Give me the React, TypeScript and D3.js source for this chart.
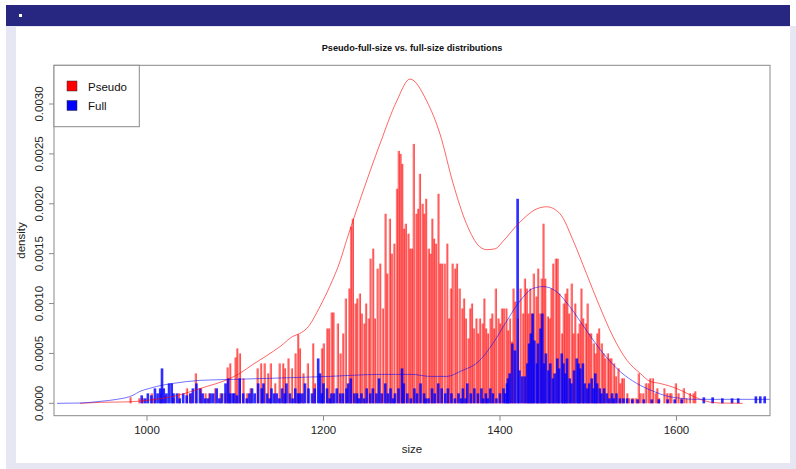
import React from "react";
import * as d3 from "d3";

// ---- data (density values in units of 1e-5) ----
const pseudoHist: [number, number][] = [
  [981,6],[991,5],[995,5],[1005,10],[1008,5],[1015,10],[1020,8],[1030,5],[1036,10],[1045,15],[1050,10],[1055,30],[1061,15],[1066,10],[1070,10],[1077,15],[1083,10],[1088,10],[1091,36],[1094,40],[1100,46],[1102,55],[1105,50],[1109,25],[1113,10],[1117,15],[1125,35],[1129,40],[1133,40],[1137,30],[1140,40],[1145,20],[1150,40],[1154,40],[1156,35],[1160,45],[1164,35],[1168,50],[1171,69],[1173,55],[1177,30],[1182,40],[1188,60],[1190,20],[1198,55],[1200,60],[1204,75],[1206,75],[1209,91],[1211,91],[1216,80],[1219,50],[1222,70],[1225,105],[1229,115],[1231,177],[1233,185],[1236,100],[1238,105],[1241,110],[1243,90],[1246,80],[1248,100],[1251,85],[1253,145],[1256,155],[1258,85],[1261,135],[1264,140],[1267,95],[1270,190],[1272,130],[1275,185],[1277,150],[1280,160],[1283,215],[1285,253],[1287,250],[1289,240],[1291,175],[1293,180],[1296,170],[1298,155],[1300,155],[1302,260],[1305,190],[1307,195],[1309,230],[1312,200],[1314,190],[1316,205],[1319,155],[1321,150],[1323,185],[1325,165],[1327,160],[1330,210],[1332,140],[1334,140],[1337,140],[1340,160],[1342,85],[1344,115],[1346,140],[1349,135],[1351,140],[1354,115],[1357,95],[1359,105],[1361,85],[1364,65],[1366,95],[1368,100],[1370,75],[1373,85],[1375,70],[1377,85],[1380,80],[1382,105],[1384,75],[1386,70],[1389,85],[1391,90],[1393,75],[1395,115],[1398,85],[1400,80],[1402,95],[1404,95],[1407,95],[1409,73],[1411,85],[1413,62],[1415,115],[1417,102],[1420,85],[1423,115],[1426,90],[1428,125],[1430,115],[1432,90],[1434,115],[1436,90],[1438,130],[1441,107],[1443,135],[1445,90],[1447,125],[1449,180],[1451,125],[1454,87],[1456,85],[1458,115],[1460,140],[1463,145],[1465,145],[1467,110],[1470,70],[1472,100],[1474,110],[1476,115],[1478,90],[1481,120],[1483,70],[1485,100],[1488,70],[1490,80],[1492,115],[1494,85],[1497,80],[1499,100],[1501,70],[1503,70],[1506,60],[1508,50],[1510,70],[1512,75],[1515,60],[1517,50],[1519,45],[1522,50],[1524,45],[1526,45],[1529,40],[1531,27],[1534,35],[1536,20],[1538,25],[1540,25],[1544,10],[1546,5],[1549,5],[1551,5],[1554,5],[1557,30],[1559,10],[1562,10],[1565,20],[1568,20],[1570,25],[1573,25],[1576,10],[1578,15],[1580,5],[1586,15],[1589,10],[1592,10],[1594,10],[1599,20],[1602,10],[1605,5],[1608,15],[1611,5],[1615,10],[1619,10],[1621,12]
];

const fullHist: [number, number][] = [
  [994,8],[998,5],[1001,10],[1005,8],[1009,15],[1012,10],[1015,15],[1017,35],[1019,15],[1022,10],[1025,20],[1028,20],[1030,10],[1034,10],[1037,5],[1041,10],[1045,8],[1049,10],[1052,15],[1056,20],[1060,15],[1063,10],[1066,5],[1069,5],[1072,10],[1075,10],[1079,15],[1082,5],[1085,10],[1089,20],[1092,25],[1094,10],[1097,10],[1099,10],[1102,8],[1105,25],[1109,10],[1113,5],[1116,10],[1119,15],[1122,10],[1126,20],[1130,15],[1132,20],[1136,10],[1139,5],[1141,15],[1144,10],[1147,10],[1150,5],[1153,15],[1156,10],[1158,20],[1162,10],[1165,5],[1168,15],[1171,10],[1173,10],[1176,10],[1179,20],[1183,15],[1187,10],[1190,15],[1194,45],[1196,30],[1198,10],[1200,20],[1204,15],[1207,5],[1209,10],[1212,10],[1215,15],[1219,10],[1222,10],[1226,15],[1228,20],[1231,25],[1235,10],[1238,10],[1240,5],[1243,10],[1246,5],[1249,15],[1253,10],[1256,15],[1260,10],[1263,25],[1266,10],[1270,20],[1273,10],[1276,15],[1279,5],[1281,10],[1285,15],[1289,35],[1291,20],[1295,10],[1299,5],[1303,15],[1306,10],[1310,20],[1314,10],[1316,5],[1319,5],[1323,15],[1326,10],[1330,20],[1334,15],[1338,10],[1341,15],[1345,10],[1349,5],[1353,10],[1356,5],[1358,15],[1361,5],[1363,20],[1367,10],[1371,15],[1375,10],[1379,15],[1381,5],[1384,10],[1386,5],[1389,15],[1392,10],[1396,5],[1400,10],[1404,15],[1406,10],[1408,20],[1409,25],[1411,30],[1414,60],[1417,53],[1420,205],[1422,33],[1425,27],[1428,27],[1431,40],[1433,60],[1435,70],[1437,90],[1439,63],[1442,40],[1443,60],[1446,75],[1448,90],[1450,40],[1452,50],[1455,33],[1457,40],[1460,25],[1462,30],[1465,45],[1467,35],[1470,50],[1472,40],[1474,30],[1476,45],[1479,25],[1481,20],[1484,33],[1487,45],[1489,40],[1491,35],[1494,40],[1496,20],[1499,15],[1501,20],[1504,25],[1506,15],[1508,30],[1510,20],[1513,15],[1515,10],[1518,15],[1521,10],[1524,5],[1527,10],[1529,5],[1532,10],[1536,5],[1540,5],[1544,5],[1550,4],[1556,4],[1563,4],[1572,4],[1580,4],[1590,4],[1598,4],[1606,4],[1631,6],[1641,6],[1652,5],[1663,5],[1670,5],[1690,7],[1695,7],[1700,7]
];

const pseudoCurve: [number, number][] = [
  [924,0],[947,1],[980,1.5],[1000,3],[1030,7],[1068,17],[1086,22],[1105,30],[1120,39],[1136,48],[1151,57],[1165,67],[1173,70],[1181,75],[1196,97],[1207,117],[1219,143],[1226,163],[1245,213],[1264,260],[1283,303],[1298,325],[1317,303],[1332,270],[1347,220],[1362,180],[1377,157],[1385,154],[1395,155],[1403,162],[1423,182],[1442,195],[1453,197],[1468,190],[1483,163],[1498,130],[1513,97],[1528,67],[1544,43],[1559,30],[1570,22],[1581,20],[1600,15],[1619,7],[1634,2],[1650,0.3],[1675,0]
];

const fullCurve: [number, number][] = [
  [898,0],[924,0.3],[947,2],[966,4],[984,8],[992,12],[1003,15],[1011,17],[1030,20],[1060,23],[1098,24],[1136,25],[1173,26],[1207,27],[1230,28],[1264,29],[1300,29],[1321,27],[1340,27],[1355,32],[1377,43],[1392,60],[1408,83],[1423,103],[1437,115],[1449,117],[1464,112],[1479,97],[1498,73],[1517,50],[1536,32],[1555,20],[1574,12],[1590,7],[1605,5],[1620,4],[1650,4],[1680,4],[1706,4]
];

const yTicks = [0, 0.0005, 0.001, 0.0015, 0.002, 0.0025, 0.003];
const xTicks = [1000, 1200, 1400, 1600];
const legendLabels = ["Pseudo", "Full"];
const legendColors = ["#ff0000", "#0000ff"];

const UNIT = 1e-5;
const FONT = "'Liberation Sans', Arial, Helvetica, sans-serif";

export default function App() {
  const left = 54, right = 770, top = 65.3, bottom = 415.7;
  const x = d3.scaleLinear().domain([894.6, 1706]).range([left, right]);
  const y = d3.scaleLinear().domain([-0.000124, 0.003388]).range([bottom, top]);
  const y0 = y(0);

  const line = d3
    .line<[number, number]>()
    .x((d) => x(d[0]))
    .y((d) => y(d[1] * UNIT))
    .curve(d3.curveMonotoneX);

  const redW = x(2) - x(0);
  const blueW = x(3) - x(0);

  return (
    <svg
      width={796}
      height={469}
      style={{ position: "absolute", left: 0, top: 0, display: "block" }}
      fontFamily={FONT}
    >
      <rect x={0} y={0} width={796} height={469} fill="#ffffff" />
      <rect x={6} y={26} width={790} height={443} fill="#e7e7f3" />
      <rect x={16} y={27} width={774} height={436} fill="#ffffff" />
      <rect x={6} y={5} width={784} height={21} fill="#272781" />
      <rect x={19} y={14} width={3} height={3} fill="#ffffff" />

      <defs>
        <clipPath id="plotclip">
          <rect x={left} y={top} width={right - left} height={bottom - top} />
        </clipPath>
      </defs>

      <g clipPath="url(#plotclip)">
        {pseudoHist.map(([s, d], i) => {
          const x0 = x(s) - redW / 2;
          const yt = y(d * UNIT);
          return (
            <g key={"r" + i}>
              <rect x={x0} y={yt} width={redW} height={y0 - yt} fill="rgba(255,0,0,0.5)" />
              <line x1={x0 + redW} x2={x0 + redW} y1={yt} y2={y0} stroke="rgba(255,0,0,0.75)" strokeWidth={0.8} />
            </g>
          );
        })}
        {fullHist.map(([s, d], i) => {
          const x0 = x(s) - blueW / 2;
          const yt = y(d * UNIT);
          return (
            <rect key={"b" + i} x={x0} y={yt} width={blueW} height={y0 - yt} fill="rgba(0,0,255,0.82)" />
          );
        })}
        <path d={line(pseudoCurve) || ""} fill="none" stroke="#ff0000" strokeOpacity={0.6} strokeWidth={1} />
        <path d={line(fullCurve) || ""} fill="none" stroke="#0000ff" strokeOpacity={0.55} strokeWidth={1} />
      </g>

      {/* box */}
      <rect x={left} y={top} width={right - left} height={bottom - top} fill="none" stroke="#8a8a8a" strokeWidth={1} />

      {/* y axis */}
      {yTicks.map((t) => (
        <g key={"yt" + t}>
          <line x1={left - 5} x2={left} y1={y(t)} y2={y(t)} stroke="#8a8a8a" />
          <text
            transform={`translate(${left - 11},${y(t)}) rotate(-90)`}
            textAnchor="middle"
            fontSize={11.5}
            fill="#222"
          >
            {t.toFixed(4)}
          </text>
        </g>
      ))}
      {/* x axis */}
      {xTicks.map((t) => (
        <g key={"xt" + t}>
          <line x1={x(t)} x2={x(t)} y1={bottom} y2={bottom + 5} stroke="#8a8a8a" />
          <text x={x(t)} y={bottom + 18} textAnchor="middle" fontSize={11.5} fill="#222">
            {t}
          </text>
        </g>
      ))}

      <text x={(left + right) / 2} y={bottom + 37} textAnchor="middle" fontSize={11.5} fill="#222">
        size
      </text>
      <text
        transform={`translate(25,${(top + bottom) / 2}) rotate(-90)`}
        textAnchor="middle"
        fontSize={11.5}
        fill="#222"
      >
        density
      </text>
      <text x={(left + right) / 2} y={51} textAnchor="middle" fontSize={9.2} fontWeight="bold" fill="#111">
        Pseudo-full-size vs. full-size distributions
      </text>

      {/* legend */}
      <rect x={left} y={top} width={139.3 - left} height={126.7 - top} fill="#ffffff" stroke="#8a8a8a" />
      {legendLabels.map((lab, i) => (
        <g key={lab}>
          <rect x={67} y={81 + i * 19.5} width={10} height={10} fill={legendColors[i]} stroke="#333" strokeWidth={0.5} />
          <text x={88} y={90.5 + i * 19.5} fontSize={11.5} fill="#111">
            {lab}
          </text>
        </g>
      ))}
    </svg>
  );
}
